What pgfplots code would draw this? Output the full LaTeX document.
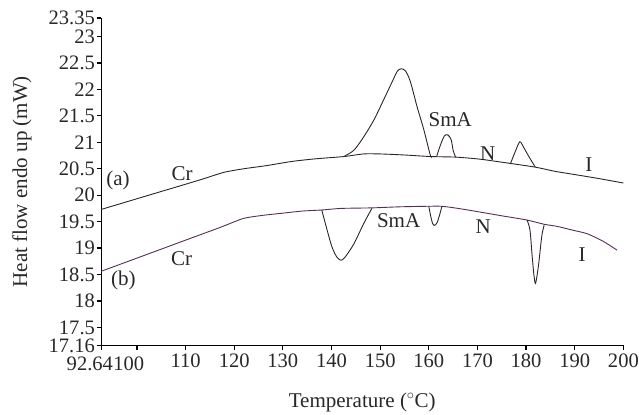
\documentclass[border=0pt]{standalone}
\usepackage{fontspec}
\setmainfont{Liberation Serif}
\usepackage{pgfplots}
\pgfplotsset{compat=1.18}
\definecolor{curveA}{RGB}{45,35,45}
\definecolor{curveB}{RGB}{85,45,85}
\definecolor{txt}{RGB}{40,40,40}
\begin{document}
\begin{tikzpicture}
\begin{axis}[
  scale only axis, width=521.7bp, height=327bp,
  at={(0,0)}, anchor=south west,
  xmin=92.64, xmax=200, ymin=17.16, ymax=23.35,
  axis x line*=bottom, axis y line*=left,
  axis line style={line width=1.2pt, -},
  xtick={92.64,100,110,120,130,140,150,160,170,180,190,200},
  xticklabels={,,110,120,130,140,150,160,170,180,190,200},
  ytick={17.16,17.5,18,18.5,19,19.5,20,20.5,21,21.5,22,22.5,23,23.35},
  yticklabels={17.16,17.5,18,18.5,19,19.5,20,20.5,21,21.5,22,22.5,23,23.35},
  tick style={line width=1.2pt, black},
  major tick length=4.5bp, tick align=outside,
  ticklabel style={font=\fontsize{20.5bp}{23bp}\selectfont, text=txt},
  yticklabel style={inner xsep=1.5bp, inner ysep=0pt},
  /pgf/number format/assume math mode=true,
  xlabel={Temperature ($^\circ$C)},
  ylabel={Heat flow endo up (mW)},
  label style={font=\fontsize{21bp}{23bp}\selectfont, text=txt},
  xlabel style={at={(axis description cs:0.5,-0.174)}, anchor=center},
  ylabel style={at={(axis description cs:-0.1514,0.5)}, anchor=center},
  clip=false,
]
% curve (a) baseline
\addplot[curveA, line width=0.9pt, smooth, tension=0.4] coordinates {
(92.64,19.73) (105,20.07) (113,20.29) (117.8,20.43) (122,20.50) (126.7,20.56)
(132,20.64) (137,20.69) (142.5,20.73) (146.6,20.78) (150,20.78) (155,20.76)
(160.5,20.73) (165.5,20.72) (170.6,20.68) (176.8,20.60) (181.9,20.53)
(186,20.45) (190,20.39) (194.6,20.32) (200,20.23)};
% peaks (a)
\addplot[curveA, line width=0.9pt, smooth, tension=0.5] coordinates {
(142.5,20.73) (144.6,20.85) (146.6,21.10) (148.7,21.42) (150.7,21.80) (152.5,22.15)
(153.5,22.34) (154.3,22.39) (155.2,22.35) (156.2,22.15) (157.6,21.67) (159.0,21.23)
(160.3,20.76) (160.6,20.73)};
\addplot[curveA, line width=0.9pt, smooth, tension=0.5] coordinates {
(161.6,20.73) (162.4,20.95) (163.2,21.12) (163.9,21.14) (164.6,21.05) (165.0,20.85) (165.5,20.72)};
\addplot[curveA, line width=0.9pt, smooth, tension=0.5] coordinates {
(176.8,20.60) (177.8,20.83) (178.7,21.01) (179.4,20.92) (180.2,20.79) (181.1,20.65) (181.9,20.53)};
% curve (b) baseline
\addplot[curveB, line width=0.9pt, smooth, tension=0.4] coordinates {
(92.64,18.56) (100,18.81) (110,19.15) (117.1,19.39) (121.9,19.56) (126,19.62)
(130,19.66) (134,19.70) (138,19.72) (142,19.75) (148.3,19.76) (154,19.78)
(159.6,19.79) (162.7,19.79) (166,19.75) (170.6,19.68) (175,19.61) (180.2,19.53)
(183.7,19.45) (186.4,19.41) (189.5,19.34) (192.6,19.27) (196,19.12) (198.7,18.96)};
% dips (b)
\addplot[curveA, line width=0.9pt, smooth, tension=0.5] coordinates {
(138.0,19.72) (139.1,19.34) (140.1,19.02) (141.1,18.83) (141.96,18.77) (142.8,18.83)
(144.6,19.08) (146.6,19.46) (148.3,19.75)};
\addplot[curveA, line width=0.9pt, smooth, tension=0.5] coordinates {
(160.0,19.79) (160.4,19.60) (160.8,19.46) (161.2,19.43) (161.7,19.48) (162.2,19.62) (162.7,19.79)};
\addplot[curveA, line width=0.9pt, smooth, tension=0.5] coordinates {
(180.2,19.53) (180.8,19.34) (181.2,18.90) (181.6,18.50) (181.9,18.33)
(182.2,18.45) (182.6,18.71) (183.0,19.05) (183.3,19.27) (183.7,19.43)};
% first two x tick labels, set as in the reference ("92.64100")
\begin{scope}[every node/.style={font=\fontsize{20.5bp}{23bp}\selectfont, text=txt, inner sep=0pt}]
\node[anchor=north east, xshift=12bp, yshift=-11.5bp] at (axis cs:92.64,17.16) {92.64};
\node[anchor=north west, xshift=-23.8bp, yshift=-11.5bp] at (axis cs:100,17.16) {100};
\end{scope}
% labels
\begin{scope}[every node/.style={font=\fontsize{21bp}{23bp}\selectfont, text=txt, inner sep=0pt}]
\node at (axis cs:96.1,20.28) {(a)};
\node at (axis cs:109.3,20.40) {Cr};
\node at (axis cs:164.4,21.42) {SmA};
\node at (axis cs:172.1,20.79) {N};
\node at (axis cs:192.9,20.57) {I};
\node at (axis cs:97.2,18.39) {(b)};
\node at (axis cs:109.2,18.80) {Cr};
\node at (axis cs:153.8,19.51) {SmA};
\node at (axis cs:171.2,19.40) {N};
\node at (axis cs:191.5,18.88) {I};
\end{scope}
\end{axis}
\pgfresetboundingbox
\path[use as bounding box] (-101bp,-69bp) rectangle (537.3bp,345bp);
\end{tikzpicture}
\end{document}
